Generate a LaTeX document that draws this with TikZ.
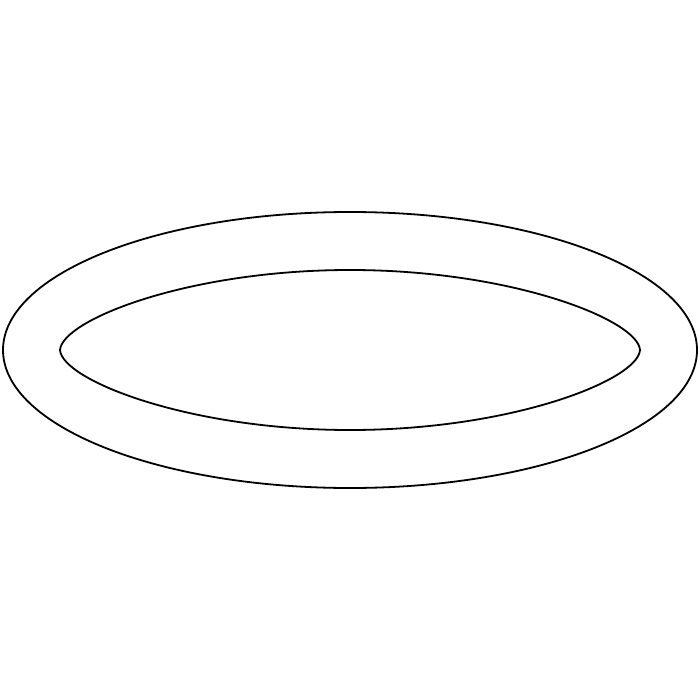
\documentclass[tikz,border=0pt]{standalone}
\usetikzlibrary{shapes.geometric}
\begin{document}
\begin{tikzpicture}[x=1pt,y=-1pt,ring/.style={draw=black,line width=1.8pt}]
\useasboundingbox (0,0) rectangle (700,700);
\node[ring,ellipse,minimum width=694pt,minimum height=276pt,inner sep=0pt] (outer) at (350,350) {};
\draw[ring] (60,350) .. controls (62,320) and (188,270) .. (350,270)
  .. controls (512,270) and (638,320) .. (640,350)
  .. controls (638,380) and (512,430) .. (350,430)
  .. controls (188,430) and (62,380) .. (60,350) -- cycle;
\end{tikzpicture}
\end{document}
